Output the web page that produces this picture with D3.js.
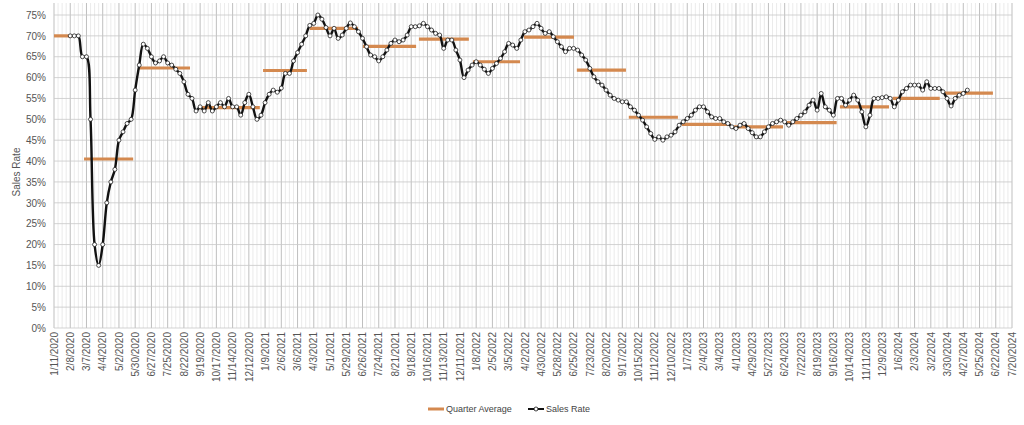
<!DOCTYPE html>
<html><head><meta charset="utf-8">
<script src="https://cdn.jsdelivr.net/npm/d3@7"></script>
<style>body{margin:0;background:#fff}svg{display:block}</style>
</head><body>
<svg id="c" width="1024" height="425"></svg>
<script>
const firstDate = "2020-01-11";
const totalWeeks = 236;
const salesStartWeek = 4;
const salesRate = [70,70,70,65,65,50,20,15,20,30,35,38,45,47,49,50,57,63,68,67,65,63.5,64,65,63.5,63,62,61,59,56,55,52,53,52,54,52,53,54,53,55,53,53,51,54,56,53,50,51,54,56,57,56.5,57.5,61,61,64,66,68,70,72.5,73,75,74,72,70,
71.8,69.4,70.2,71.8,73.1,72.2,71,69.4,67.4,65.4,65,64,65,66.6,68.2,69,68.6,69,70.2,72.2,72.2,72.4,73,72.2,71.4,70.6,70.2,67,69,69,66.6,64.2,60,61.8,63,63.8,63,62,61,62.2,63.4,64.6,66.2,68.2,67.8,67,69,71,71.4,72.2,73,71.8,70.6,71,69.8,68.6,67.4,66.2,67,67,66.6,65.4,64.2,62.2,60.2,59,58.2,57,55.8,55,54.6,54.2,54.2,53,52.2,51,49.8,48.2,
46.6,45.2,45.8,45,45.8,46.2,47,48.6,49.4,50.2,51,52.2,53,53,51.8,50.6,50.2,50.2,49.4,49,48.2,47.8,48.6,49,47.8,46.8,45.8,45.8,47,48.2,49,49.4,49.8,49.4,48.6,49.4,50.2,51,51.8,53.4,54.6,52.2,56.2,53,52.2,51,55,55,53.4,54.6,55.8,54.6,51.8,48.2,51,55,55,55.2,55.4,55,53,54.6,56.6,57.4,58.2,58.2,58.2,57,59,57.4,57.4,57.4,56.6,55,53.2,55,55.8,56.2,57];
const quarterFromWeek = [0,7.4,20.7,35.5,51.5,63,76.1,89.9,103.2,115.8,128.8,141.6,154.7,167.5,180.5,193.6,206.6,219.4];
const quarterToWeek   = [4.5,19.5,33.5,50.7,62.3,74.9,89.2,102.2,114.8,128.1,140.9,153.7,166.7,179.6,192.8,205.7,218.2,231.3];
const quarterAvg      = [70,40.5,62.3,52.8,61.7,71.8,67.5,69.2,63.8,69.7,61.8,50.5,48.8,48.2,49.2,53,55,56.3];
const yTicks = d3.range(0,76,5);

const svg = d3.select("#c");
const L=54,R=1012,T=15,B=328;
const x = d3.scaleLinear().domain([0,totalWeeks]).range([L,R]);
const y = d3.scaleLinear().domain([0,75]).range([B,T]);
const base = d3.timeParse("%Y-%m-%d")(firstDate);
const fmt = d=>`${d.getMonth()+1}/${d.getDate()}/${d.getFullYear()}`;

const g = svg.append("g");
// vertical grid
d3.range(0,totalWeeks+1).forEach(w=>{
  g.append("line").attr("x1",x(w)).attr("x2",x(w)).attr("y1",3).attr("y2",B)
   .attr("stroke", w%4===0?"#b8b8b8":"#e2e2e2").attr("stroke-width",w%4===0?0.9:0.7);
});
// horizontal grid
yTicks.forEach(v=>{
  g.append("line").attr("x1",L).attr("x2",R).attr("y1",y(v)).attr("y2",y(v))
   .attr("stroke","#c8c8c8").attr("stroke-width",0.8);
});
// y axis labels
const ya = d3.axisLeft(y).tickValues(yTicks).tickFormat(d=>d+"%").tickSize(0).tickPadding(8);
svg.append("g").attr("transform",`translate(${L},0)`).call(ya)
  .call(s=>s.select(".domain").remove())
  .selectAll("text").attr("font-family","Liberation Sans, Arial").attr("font-size",10).attr("fill","#555");
// x labels
const xa = d3.axisBottom(x).tickValues(d3.range(0,totalWeeks+1,4))
  .tickFormat(w=>fmt(d3.timeDay.offset(base,w*7))).tickSize(0).tickPadding(0);
svg.append("g").attr("transform",`translate(0,${B})`).call(xa)
  .call(s=>s.select(".domain").remove())
  .selectAll("text").attr("font-family","Liberation Sans, Arial").attr("font-size",10).attr("fill","#555")
  .attr("text-anchor","end").attr("dy","0.32em").attr("transform","translate(0,4) rotate(-90)");
svg.append("text").attr("transform","translate(20,172) rotate(-90)").attr("text-anchor","middle")
  .attr("font-family","Liberation Sans, Arial").attr("font-size",10).attr("fill","#555").text("Sales Rate");

// quarter averages
svg.append("g").selectAll("line").data(quarterAvg).join("line")
  .attr("x1",(d,i)=>x(quarterFromWeek[i])).attr("x2",(d,i)=>x(quarterToWeek[i]))
  .attr("y1",d=>y(d)).attr("y2",d=>y(d)).attr("stroke","#d4894f").attr("stroke-width",3.2);

// sales line
const pts = salesRate.map((v,i)=>({w:salesStartWeek+i,v}));
svg.append("path").datum(pts).attr("fill","none").attr("stroke","#111").attr("stroke-width",2.4)
  .attr("d",d3.line().x(d=>x(d.w)).y(d=>y(d.v)).curve(d3.curveCatmullRom));
svg.append("g").selectAll("circle").data(pts).join("circle")
  .attr("cx",d=>x(d.w)).attr("cy",d=>y(d.v)).attr("r",2).attr("fill","#fff").attr("stroke","#222").attr("stroke-width",0.8);

// legend
const lg = svg.append("g").attr("transform","translate(428,409)");
lg.append("line").attr("x1",0).attr("x2",16).attr("stroke","#d4894f").attr("stroke-width",3);
lg.append("text").attr("x",18).attr("dy","0.35em").attr("font-family","Liberation Sans Narrow, Liberation Sans").attr("font-size",9).attr("fill","#444").text("Quarter Average");
lg.append("line").attr("x1",100).attr("x2",116).attr("stroke","#111").attr("stroke-width",2);
lg.append("circle").attr("cx",108).attr("r",2).attr("fill","#fff").attr("stroke","#111").attr("stroke-width",0.8);
lg.append("text").attr("x",118).attr("dy","0.35em").attr("font-family","Liberation Sans Narrow, Liberation Sans").attr("font-size",9).attr("fill","#444").text("Sales Rate");
</script>
</body></html>
